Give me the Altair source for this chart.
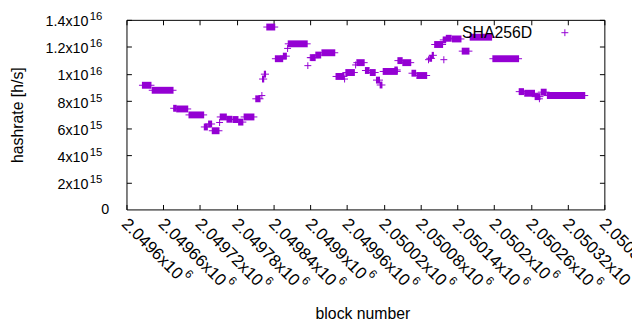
import altair as alt
import pandas as pd

# ---- data ----
seg_start = [2049626, 2049642, 2049677, 2049682, 2049702, 2049727, 2049734, 2049740, 2049752,
             2049753, 2049764, 2049774, 2049783, 2049792, 2049811, 2049821, 2049822, 2049825,
             2049829, 2049843, 2049856, 2049863, 2049864, 2049896, 2049900, 2049901, 2049909,
             2049919, 2049942, 2049956, 2049958, 2049974, 2049976, 2049990, 2049998, 2050008,
             2050014, 2050019, 2050038, 2050043, 2050051, 2050066, 2050074, 2050093, 2050095,
             2050099, 2050103, 2050118, 2050117, 2050122, 2050132, 2050148, 2050161, 2050198,
             2050241, 2050250, 2050267, 2050274, 2050277, 2050287]
seg_end = [2049640, 2049676, 2049681, 2049700, 2049726, 2049732, 2049739, 2049751, 2049752,
           2049763, 2049772, 2049782, 2049790, 2049808, 2049818, 2049821, 2049824, 2049827,
           2049842, 2049855, 2049861, 2049863, 2049895, 2049896, 2049900, 2049908, 2049917,
           2049940, 2049955, 2049956, 2049972, 2049974, 2049988, 2049996, 2050006, 2050013,
           2050017, 2050042, 2050042, 2050050, 2050064, 2050072, 2050090, 2050093, 2050098,
           2050101, 2050116, 2050118, 2050121, 2050130, 2050146, 2050159, 2050196, 2050240,
           2050248, 2050266, 2050275, 2050274, 2050285, 2050348]
seg_value = [9.17e15, 8.80e15, 7.47e15, 7.42e15, 6.98e15, 6.09e15, 6.31e15, 5.81e15, 6.42e15,
             6.83e15, 6.66e15, 6.64e15, 6.45e15, 6.83e15, 8.17e15, 8.41e15, 9.63e15, 9.99e15,
             1.347e16, 1.113e16, 1.132e16, 1.189e16, 1.223e16, 1.062e16, 1.121e16, 1.121e16, 1.140e16,
             1.157e16, 9.82e15, 9.63e15, 1.011e16, 1.067e16, 1.084e16, 1.026e16, 1.011e16, 9.55e15,
             9.19e15, 1.019e16, 1.03e16, 1.099e16, 1.084e16, 1.006e16, 9.89e15, 1.106e16, 1.116e16,
             1.138e16, 1.218e16, 1.106e16, 1.252e16, 1.264e16, 1.259e16, 1.169e16, 1.272e16, 1.113e16,
             8.70e15, 8.58e15, 8.33e15, 8.17e15, 8.66e15, 8.41e15]

series_name = "SHA256D"

x_tick_values = [2049600, 2049660, 2049720, 2049780, 2049840, 2049900, 2049960,
                 2050020, 2050080, 2050140, 2050200, 2050260, 2050320, 2050380]
x_tick_mantissa = ["2.0496x10", "2.04966x10", "2.04972x10", "2.04978x10", "2.04984x10",
                   "2.0499x10", "2.04996x10", "2.05002x10", "2.05008x10", "2.05014x10",
                   "2.0502x10", "2.05026x10", "2.05032x10", "2.05038x10"]
x_tick_exp = ["6"] * 14

y_tick_values = [0, 2e15, 4e15, 6e15, 8e15, 1e16, 1.2e16, 1.4e16]
y_tick_mantissa = ["0", "2x10", "4x10", "6x10", "8x10", "1x10", "1.2x10", "1.4x10"]
y_tick_exp = ["", "15", "15", "15", "15", "16", "16", "16"]

df = pd.DataFrame({"start": seg_start, "end": seg_end, "value": seg_value})

# ---- styling ----
FONT = "Liberation Sans"
COLOR = "#9400d3"
W, H = 484, 192


def expr_map(values, labels):
    e = "''"
    for v, l in reversed(list(zip(values, labels))):
        e = f"(datum.value == {int(v)} ? '{l}' : {e})"
    return e


short_x = [v for v, m in zip(x_tick_values, x_tick_mantissa) if len(m) == 9]
long_x = [v for v, m in zip(x_tick_values, x_tick_mantissa) if len(m) != 9]
y_nonzero = [v for v in y_tick_values if v != 0]
y_zero = [v for v in y_tick_values if v == 0]

common = dict(domain=False, ticks=False, tickSize=0, labelOverlap=False, labelFlush=False,
              labelFont=FONT, labelColor="black")

XPAD, XOFF = 6, 3
x_main = alt.Axis(orient="bottom", values=x_tick_values,
                  labelExpr=expr_map(x_tick_values, x_tick_mantissa),
                  labelAngle=45, labelAlign="left", labelBaseline="top",
                  labelPadding=XPAD, labelOffset=XOFF, labelFontSize=17,
                  grid=True, gridDash=[5, H - 10, 5, 2000], gridColor="black",
                  gridOpacity=1, gridWidth=1,
                  title="block number", titleFont=FONT, titleFontSize=16,
                  titleFontWeight="normal", titleColor="black",
                  titleX=W / 2 - 3, titleY=105, titleAlign="center", titleBaseline="middle",
                  **common)
x_sup_short = alt.Axis(orient="bottom", values=short_x,
                       labelExpr=expr_map(x_tick_values, x_tick_exp),
                       labelAngle=45, labelAlign="left", labelBaseline="top",
                       labelPadding=XPAD + 53, labelOffset=XOFF + 61, labelFontSize=12,
                       grid=False, title=None, **common)
x_sup_long = alt.Axis(orient="bottom", values=long_x,
                      labelExpr=expr_map(x_tick_values, x_tick_exp),
                      labelAngle=45, labelAlign="left", labelBaseline="top",
                      labelPadding=XPAD + 60, labelOffset=XOFF + 68, labelFontSize=12,
                      grid=False, title=None, **common)

y_main = alt.Axis(orient="left", values=y_nonzero,
                  labelExpr=expr_map(y_tick_values, y_tick_mantissa),
                  labelAlign="right", labelBaseline="middle",
                  labelPadding=39, labelOffset=2, labelFontSize=14.5,
                  grid=True, gridDash=[5, W - 10, 5, 2000], gridColor="black",
                  gridOpacity=1, gridWidth=1,
                  title="hashrate [h/s]", titleFont=FONT, titleFontSize=16,
                  titleFontWeight="normal", titleColor="black",
                  titleX=-110, titleY=H / 2, titleAngle=-90,
                  titleAlign="center", titleBaseline="middle",
                  **common)
y_sup = alt.Axis(orient="left", values=y_nonzero,
                 labelExpr=expr_map(y_tick_values, y_tick_exp),
                 labelAlign="right", labelBaseline="middle",
                 labelPadding=25, labelOffset=-3, labelFontSize=11.5,
                 grid=False, title=None, **common)
y_zero_axis = alt.Axis(orient="left", values=y_zero,
                       labelExpr=expr_map(y_tick_values, y_tick_mantissa),
                       labelAlign="right", labelBaseline="middle",
                       labelPadding=18, labelOffset=0, labelFontSize=14.5,
                       grid=False, title=None, **common)

xscale = alt.Scale(domain=[2049600, 2050380], nice=False, zero=False)
yscale = alt.Scale(domain=[0, 1.4e16], nice=False, zero=True)

base = alt.Chart(df)

thick = base.mark_rule(strokeWidth=7, strokeCap="butt", color=COLOR,
                       xOffset=-0.5, x2Offset=0.5).encode(
    x=alt.X("start:Q", scale=xscale, axis=x_main),
    x2="end:Q",
    y=alt.Y("value:Q", scale=yscale, axis=y_main),
)
thin = base.mark_rule(strokeWidth=1, color=COLOR,
                      xOffset=-3.5, x2Offset=3.5).encode(
    x=alt.X("start:Q", scale=xscale, axis=x_sup_short),
    x2="end:Q",
    y=alt.Y("value:Q", scale=yscale, axis=y_sup),
)
ghost = base.mark_rule(opacity=0).encode(
    x=alt.X("start:Q", scale=xscale, axis=x_sup_long),
    x2="end:Q",
    y=alt.Y("value:Q", scale=yscale, axis=y_zero_axis),
)

leg_df = pd.DataFrame({"label": [series_name]})
leg_text = alt.Chart(leg_df).mark_text(align="right", baseline="middle", font=FONT,
                                       fontSize=16, color="black").encode(
    x=alt.value(411), y=alt.value(13), text="label:N")
cross = "M-1,0L1,0M0,-1L0,1"
leg_point = alt.Chart(leg_df).mark_point(shape=cross, size=49, filled=False, strokeWidth=1,
                                         color=COLOR, opacity=1).encode(
    x=alt.value(444), y=alt.value(13))

chart = alt.layer(thick, thin, ghost, leg_text, leg_point).resolve_axis(
    x="independent", y="independent"
).properties(
    width=W, height=H,
    autosize=alt.AutoSizeParams(type="none"),
    padding={"left": 120, "top": 10, "right": 28, "bottom": 112},
).configure_view(stroke="black", strokeWidth=1)

chart.save("out.html", embed_options={"renderer": "svg", "actions": False})
